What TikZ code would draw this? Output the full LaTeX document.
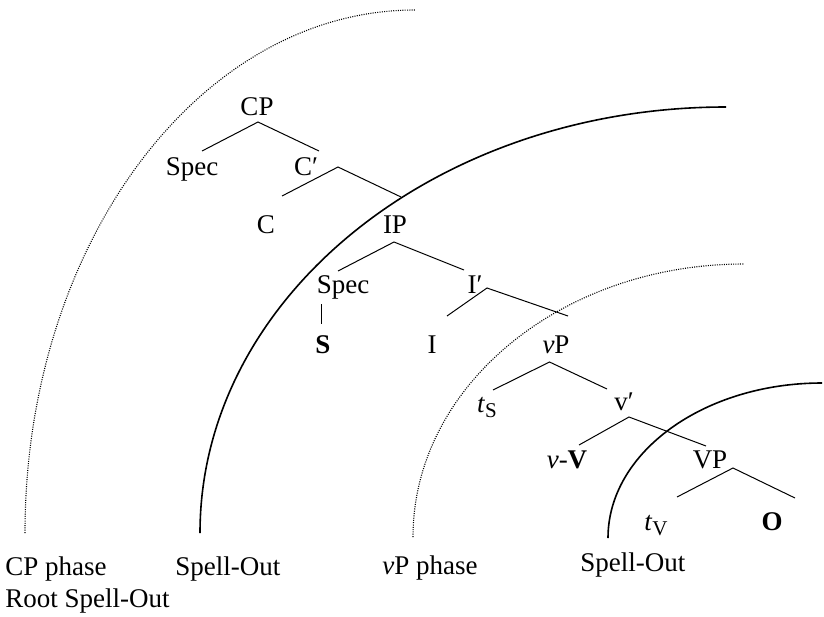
\documentclass[tikz,border=0pt]{standalone}
\usepackage{fontspec}
\setmainfont{Liberation Serif}
\usepackage{tikz}

\newcommand{\trc}[1]{\textit{t}\raisebox{-2.5pt}{\fontsize{10.5}{11}\selectfont #1}}

\begin{document}
\begin{tikzpicture}[
        x=0.5pt, y=0.5pt,
        font=\fontsize{13.5}{16}\selectfont,
        lbl/.style={anchor=base, inner sep=0pt},
        foot/.style={anchor=base west, inner sep=0pt},
        branch/.style={line width=0.5pt},
        spell/.style={line width=0.8pt},
        phase/.style={line width=0.55pt, dash pattern=on 0.5pt off 0.65pt},
    ]
        \useasboundingbox (0,-616) rectangle (824,0);

        % CP layer
        \node[lbl] (cp) at (257,-115) {CP};
        \node[lbl] (cspec) at (192,-175) {Spec};
        \node[lbl] (cbar) at (306,-175) {C′};
        \node[lbl] (c) at (266,-233) {C};

        % IP layer
        \node[lbl] (ip) at (395,-233) {IP};
        \node[lbl] (ispec) at (343,-293) {Spec};
        \node[lbl] (ibar) at (475,-293) {I′};
        \node[lbl] (subj) at (323,-353) {\textbf{S}};
        \node[lbl] (i) at (432,-353) {I};

        % vP layer
        \node[lbl] (vp) at (556,-353) {\textit{v}P};
        \node[lbl] (ts) at (487,-412) {\trc{S}};
        \node[lbl] (vbar) at (624,-410) {v′};
        \node[lbl] (vv) at (567,-468) {\textit{v}-\textbf{V}};

        % VP layer
        \node[lbl] (VP) at (710,-468) {VP};
        \node[lbl] (tv) at (656,-530) {\trc{V}};
        \node[lbl] (obj) at (772,-530) {\textbf{O}};

        % Branches
        \draw[branch] ([shift={(10,24)}]cspec.base) -- ([shift={(1,-7)}]cp.base) -- ([shift={(13,24)}]cbar.base);
        \draw[branch] ([shift={(16,37)}]c.base) -- ([shift={(32,8)}]cbar.base) -- ([shift={(6,36)}]ip.base);
        \draw[branch] ([shift={(-5,22)}]ispec.base) -- ([shift={(-1,-9)}]ip.base) -- ([shift={(-11,23)}]ibar.base);
        \draw[branch] ([shift={(-22,-11)}]ispec.base) -- ([shift={(-2,29)}]subj.base);
        \draw[branch] ([shift={(15,37)}]i.base) -- ([shift={(12,5)}]ibar.base) -- ([shift={(12,37)}]vp.base);
        \draw[branch] ([shift={(6,22)}]ts.base) -- ([shift={(-6.5,-9)}]vp.base) -- ([shift={(-17,21)}]vbar.base);
        \draw[branch] ([shift={(12,23)}]vv.base) -- ([shift={(5,-7)}]vbar.base) -- ([shift={(-4,22)}]VP.base);
        \draw[branch] ([shift={(21,33)}]tv.base) -- ([shift={(23,0)}]VP.base) -- ([shift={(23,32)}]obj.base);

        % Phase boundaries
        \draw[phase] (25,-533) arc[start angle=180, end angle=90, x radius=390, y radius=523];
        \draw[spell] (200,-533) arc[start angle=180, end angle=90, x radius=526, y radius=426];
        \draw[phase] (413,-537) arc[start angle=180, end angle=90, x radius=331, y radius=273];
        \draw[spell] (608,-538) arc[start angle=180, end angle=90, x radius=214, y radius=155];

        % Labels
        \node[foot] (cpphase) at (5,-575) {CP phase};
        \node[foot] (root) at (5,-607) {Root Spell-Out};
        \node[foot] (spellone) at (175,-575) {Spell-Out};
        \node[foot] (vpphase) at (382,-574) {\textit{v}P phase};
        \node[foot] (spelltwo) at (580,-571) {Spell-Out};
    \end{tikzpicture}
\end{document}
